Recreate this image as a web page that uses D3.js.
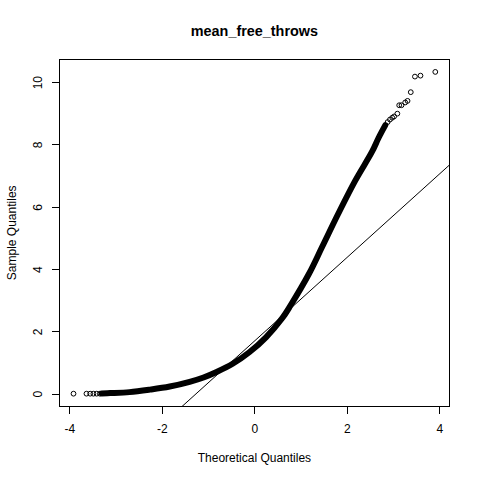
<!DOCTYPE html>
<html>
<head>
<meta charset="utf-8">
<script src="https://cdn.jsdelivr.net/npm/d3@7"></script>
<style>
  body { margin: 0; background: #fff; }
  svg text { font-family: "Liberation Sans", Arial, sans-serif; fill: #000; }
</style>
</head>
<body>
<div id="chart"></div>
<script>
// Dense band of the QQ plot (theoretical vs sample quantiles)
const bandTheoretical = [-3.30, -3.12, -2.70, -2.26, -1.83, -1.40, -1.10, -0.83, -0.47, -0.11,
    0.25, 0.60, 0.78, 1.18, 1.46, 1.82, 2.18, 2.54, 2.68, 2.83];
const bandSample = [0.01, 0.02, 0.05, 0.13, 0.23, 0.38, 0.52, 0.69, 0.96, 1.33,
    1.81, 2.42, 2.83, 3.85, 4.70, 5.80, 6.84, 7.76, 8.20, 8.62];

// Sparse points drawn as single circles (upper band end and both tails)
const tailTheoretical = [-3.91, -3.63, -3.55, -3.48, -3.41, -3.34,
    2.88, 2.93, 2.98, 3.02, 3.09, 3.13, 3.18, 3.26, 3.31, 3.38, 3.47, 3.59, 3.91];
const tailSample = [0.0, 0.0, 0.0, 0.0, 0.0, 0.0,
    8.72, 8.80, 8.86, 8.90, 8.99, 9.26, 9.26, 9.35, 9.40, 9.68, 10.18, 10.21, 10.33];

// qqline (through the quartiles)
const lineIntercept = 1.688;
const lineSlope = 1.341;

const xTicks = [-4, -2, 0, 2, 4];
const yTicks = [0, 2, 4, 6, 8, 10];

const W = 480, H = 480;
const margin = {top: 59.04, right: 30.24, bottom: 73.44, left: 59.04};

const svg = d3.select("#chart")
    .append("svg")
    .attr("width", W)
    .attr("height", H);

// R style 4% padding on the data range
const allX = bandTheoretical.concat(tailTheoretical);
const allY = bandSample.concat(tailSample);
const pad = ([a, b]) => [a - (b - a) * 0.04, b + (b - a) * 0.04];

const x = d3.scaleLinear()
    .domain(pad(d3.extent(allX)))
    .range([margin.left, W - margin.right]);

const y = d3.scaleLinear()
    .domain(pad(d3.extent(allY)))
    .range([H - margin.bottom, margin.top]);

svg.append("clipPath")
    .attr("id", "plotClip")
    .append("rect")
    .attr("x", margin.left)
    .attr("y", margin.top)
    .attr("width", W - margin.left - margin.right)
    .attr("height", H - margin.top - margin.bottom);

const plot = svg.append("g").attr("clip-path", "url(#plotClip)");

// dense band
const bandData = bandTheoretical.map((t, i) => ({t: t, s: bandSample[i]}));
const line = d3.line()
    .x(d => x(d.t))
    .y(d => y(d.s))
    .curve(d3.curveCatmullRom);

plot.append("path")
    .datum(bandData)
    .attr("fill", "none")
    .attr("stroke", "#000")
    .attr("stroke-width", 6)
    .attr("stroke-linecap", "round")
    .attr("d", line);

// single circles
plot.selectAll(".pt")
    .data(tailTheoretical.map((t, i) => ({t: t, s: tailSample[i]})))
    .enter()
    .append("circle")
    .attr("class", "pt")
    .attr("cx", d => x(d.t))
    .attr("cy", d => y(d.s))
    .attr("r", 2.4)
    .attr("fill", "none")
    .attr("stroke", "#000")
    .attr("stroke-width", 1);

// reference line
const [x0, x1] = x.domain();
plot.append("line")
    .attr("x1", x(x0))
    .attr("y1", y(lineIntercept + lineSlope * x0))
    .attr("x2", x(x1))
    .attr("y2", y(lineIntercept + lineSlope * x1))
    .attr("stroke", "#000")
    .attr("stroke-width", 1);

// box
svg.append("rect")
    .attr("x", margin.left)
    .attr("y", margin.top)
    .attr("width", W - margin.left - margin.right)
    .attr("height", H - margin.top - margin.bottom)
    .attr("fill", "none")
    .attr("stroke", "#000")
    .attr("stroke-width", 1)
    .attr("shape-rendering", "crispEdges");

// x axis
const xAxis = svg.append("g")
    .attr("transform", `translate(0,${H - margin.bottom})`)
    .call(d3.axisBottom(x).tickValues(xTicks).tickSize(7.2).tickSizeOuter(0)
        .tickFormat(d => d < 0 ? "-" + Math.abs(d) : d));
xAxis.select(".domain").remove();
xAxis.selectAll("line").attr("stroke", "#000").attr("shape-rendering", "crispEdges");
xAxis.selectAll("text")
    .attr("font-size", 12)
    .attr("font-family", "Liberation Sans, Arial, sans-serif")
    .attr("fill", "#000")
    .attr("dy", null)
    .attr("y", 26.5);

// y axis
const yAxis = svg.append("g")
    .attr("transform", `translate(${margin.left},0)`)
    .call(d3.axisLeft(y).tickValues(yTicks).tickSize(7.2).tickSizeOuter(0));
yAxis.select(".domain").remove();
yAxis.selectAll("line").attr("stroke", "#000").attr("shape-rendering", "crispEdges");
yAxis.selectAll("text")
    .attr("font-size", 12)
    .attr("font-family", "Liberation Sans, Arial, sans-serif")
    .attr("fill", "#000")
    .attr("x", null)
    .attr("dy", null)
    .attr("text-anchor", "middle")
    .attr("transform", "translate(-17.5,0) rotate(-90)");

// title and axis labels
svg.append("text")
    .attr("x", (margin.left + W - margin.right) / 2)
    .attr("y", 35.7)
    .attr("text-anchor", "middle")
    .attr("font-size", 14.4)
    .attr("font-weight", "bold")
    .text("mean_free_throws");

svg.append("text")
    .attr("x", (margin.left + W - margin.right) / 2)
    .attr("y", 462.3)
    .attr("text-anchor", "middle")
    .attr("font-size", 12)
    .text("Theoretical Quantiles");

svg.append("text")
    .attr("transform", `translate(15.5,${(margin.top + H - margin.bottom) / 2}) rotate(-90)`)
    .attr("text-anchor", "middle")
    .attr("font-size", 12)
    .text("Sample Quantiles");
</script>
</body>
</html>
